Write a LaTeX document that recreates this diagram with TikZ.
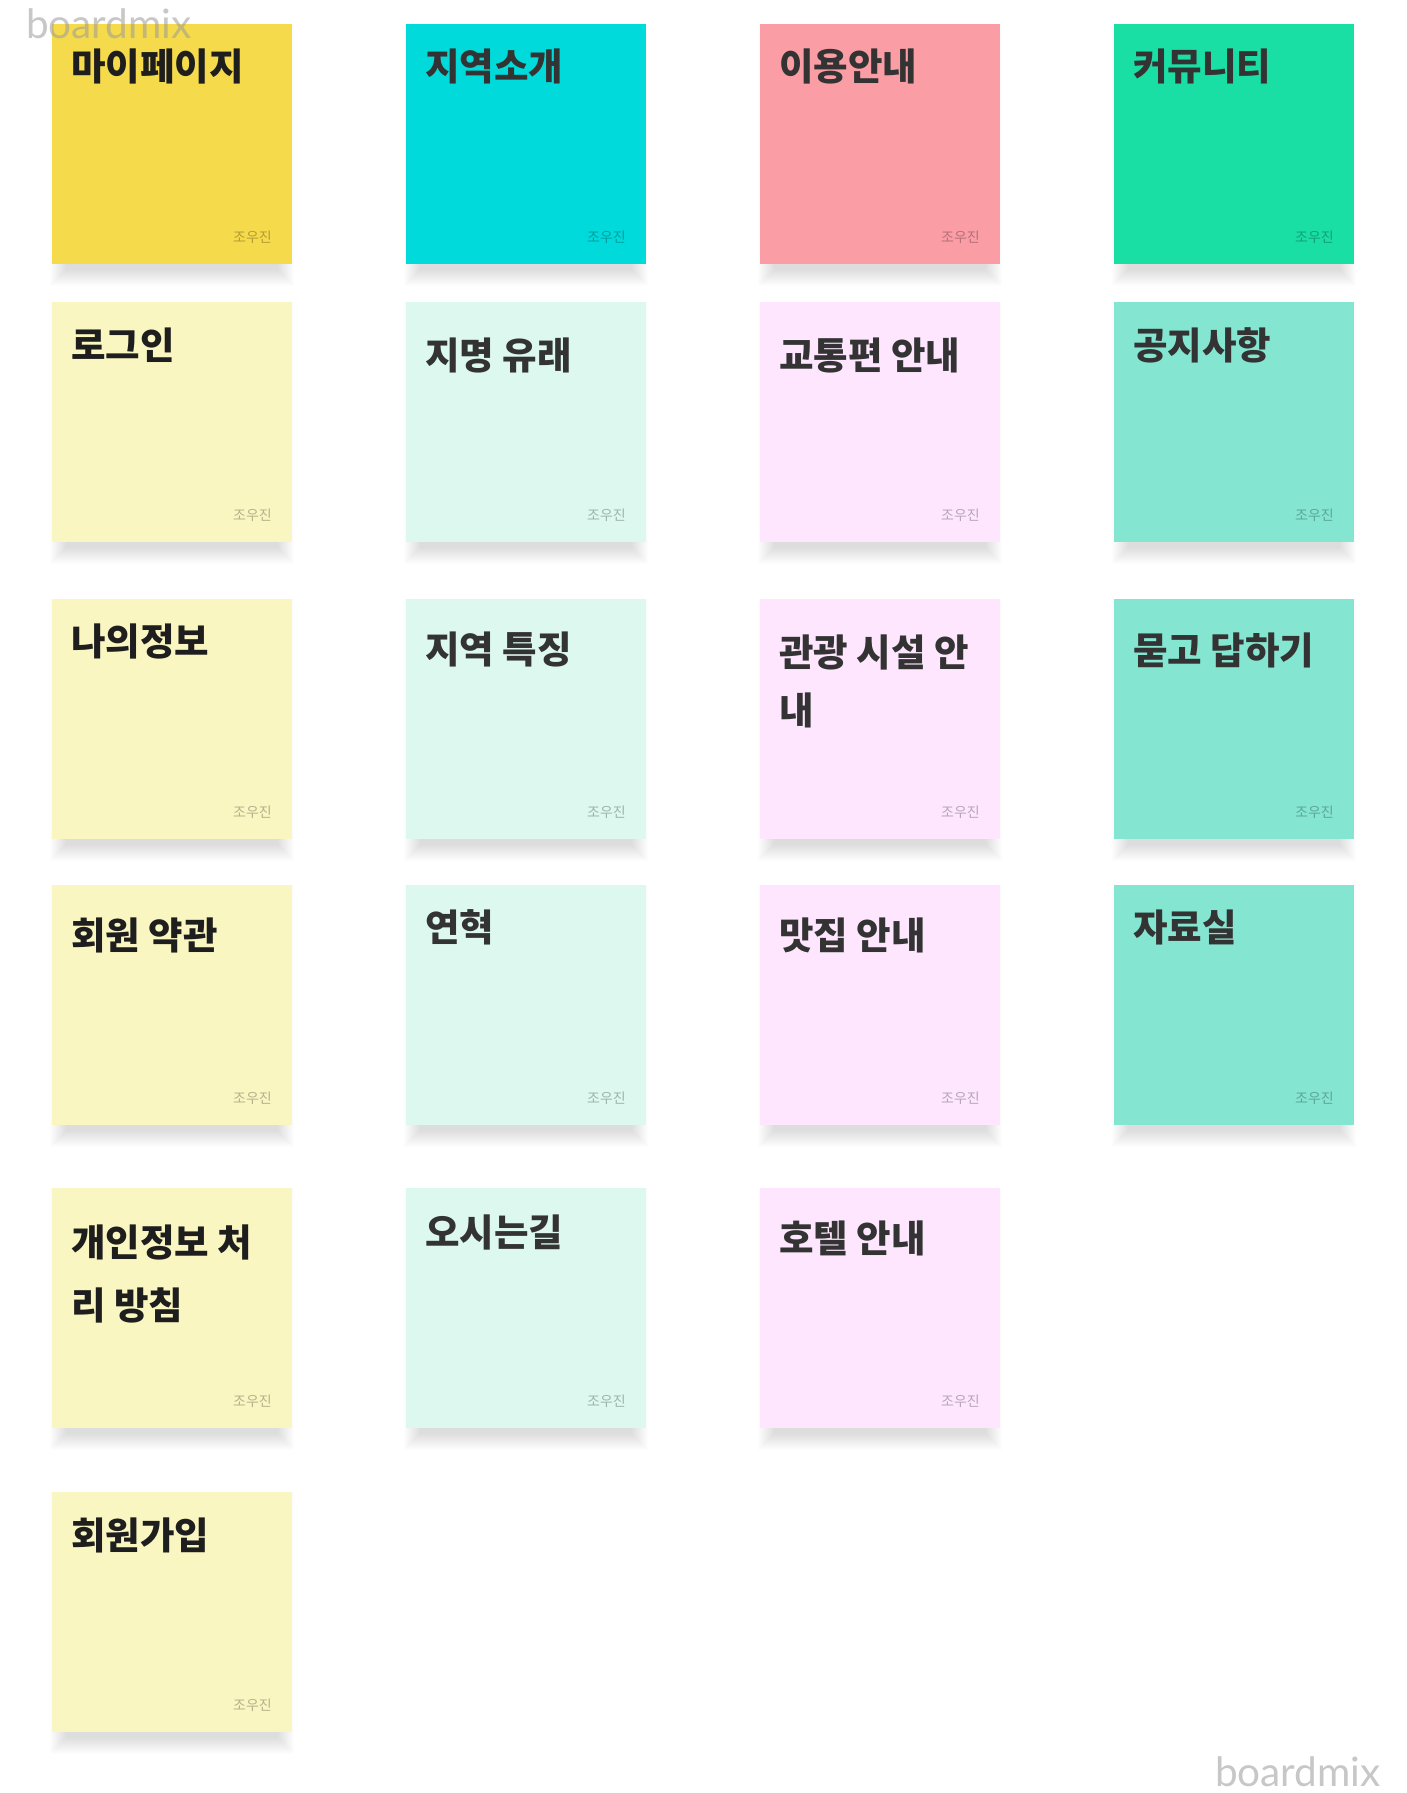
\documentclass[tikz,border=0pt]{standalone}
\usepackage{fontspec}
\newfontfamily\krfont{Noto Sans CJK KR}
\newfontfamily\krblack{Noto Sans CJK KR Black}
\newfontfamily\wmfont{Lato}
\definecolor{cYellow}{HTML}{F5DA4B}
\definecolor{cCyan}{HTML}{00DADA}
\definecolor{cPink}{HTML}{FA9DA5}
\definecolor{cGreen}{HTML}{1ADFA4}
\definecolor{cLYellow}{HTML}{FAF6C1}
\definecolor{cLMint}{HTML}{DCF8EF}
\definecolor{cLPink}{HTML}{FDE6FE}
\definecolor{cMint}{HTML}{84E5D1}
\definecolor{tDark}{HTML}{1E1E1E}
\definecolor{tGray}{HTML}{333333}
\definecolor{wmGray}{HTML}{9A9A9A}
\tikzset{
  card/.style={minimum width=240pt, minimum height=240pt, inner sep=0pt, outer sep=0pt,
    anchor=north west, draw=none},
  shadowlayer/.style={fill=black, fill opacity=0.0075, draw=none},
  title/.style={inner sep=0pt, anchor=base west, font=\krblack\fontsize{37.5}{40}\selectfont},
  titleA/.style={title, text=tDark},
  titleB/.style={title, text=tGray},
  author/.style={inner sep=0pt, anchor=base east, font=\krfont\fontsize{14}{16}\selectfont,
    text=black, text opacity=0.28},
  wm/.style={inner sep=0pt, font=\wmfont\fontsize{40.5}{44}\selectfont, text=wmGray, text opacity=0.55}
}
\begin{document}
\begin{tikzpicture}[x=1pt,y=-1pt]
\fill[white] (0,0) rectangle (1406,1793);
\useasboundingbox (0,0) rectangle (1406,1793);

% ---------- soft shadows under the cards ----------
\foreach \cx/\cy in {52/24,52/302,52/599,52/885,52/1188,52/1492,
                     406/24,406/302,406/599,406/885,406/1188,
                     760/24,760/302,760/599,760/885,760/1188,
                     1114/24,1114/302,1114/599,1114/885}{
  \foreach \s in {0,...,16}{
    \fill[shadowlayer] (\cx+14-\s,\cy+16-\s) rectangle (\cx+226+\s,\cy+246+\s);
  }
}

% ---------- column 1 ----------
\node[card, fill=cYellow]  (c11) at (52,24) {};
\node[card, fill=cLYellow] (c12) at (52,302) {};
\node[card, fill=cLYellow] (c13) at (52,599) {};
\node[card, fill=cLYellow] (c14) at (52,885) {};
\node[card, fill=cLYellow] (c15) at (52,1188) {};
\node[card, fill=cLYellow] (c16) at (52,1492) {};
% ---------- column 2 ----------
\node[card, fill=cCyan]  (c21) at (406,24) {};
\node[card, fill=cLMint] (c22) at (406,302) {};
\node[card, fill=cLMint] (c23) at (406,599) {};
\node[card, fill=cLMint] (c24) at (406,885) {};
\node[card, fill=cLMint] (c25) at (406,1188) {};
% ---------- column 3 ----------
\node[card, fill=cPink]  (c31) at (760,24) {};
\node[card, fill=cLPink] (c32) at (760,302) {};
\node[card, fill=cLPink] (c33) at (760,599) {};
\node[card, fill=cLPink] (c34) at (760,885) {};
\node[card, fill=cLPink] (c35) at (760,1188) {};
% ---------- column 4 ----------
\node[card, fill=cGreen] (c41) at (1114,24) {};
\node[card, fill=cMint]  (c42) at (1114,302) {};
\node[card, fill=cMint]  (c43) at (1114,599) {};
\node[card, fill=cMint]  (c44) at (1114,885) {};

% ---------- titles ----------
\node[titleA] (t11) at (71,81) {마이페이지};
\node[titleA] (t12) at (71,359) {로그인};
\node[titleA] (t13) at (71,655) {나의정보};
\node[titleA] (t14) at (71,949) {회원 약관};
\node[titleA] (t15a) at (71,1256) {개인정보 처};
\node[titleA] (t15b) at (71,1319) {리 방침};
\node[titleA] (t16) at (71,1549) {회원가입};

\node[titleB] (t21) at (425,81) {지역소개};
\node[titleB] (t22) at (425,369) {지명 유래};
\node[titleB] (t23) at (425,663) {지역 특징};
\node[titleB] (t24) at (425,941) {연혁};
\node[titleB] (t25) at (425,1246) {오시는길};

\node[titleB] (t31) at (779,81) {이용안내};
\node[titleB] (t32) at (779,369) {교통편 안내};
\node[titleB] (t33a) at (779,666) {관광 시설 안};
\node[titleB] (t33b) at (779,724) {내};
\node[titleB] (t34) at (779,949) {맛집 안내};
\node[titleB] (t35) at (779,1252) {호텔 안내};

\node[titleB] (t41) at (1133,81) {커뮤니티};
\node[titleB] (t42) at (1133,359) {공지사항};
\node[titleB] (t43) at (1133,664) {묻고 답하기};
\node[titleB] (t44) at (1133,941) {자료실};

% ---------- authors ----------
\foreach \cx/\nm in {52/1, 406/2, 760/3, 1114/4}{
  \node[author] (a\nm1) at (\cx+220,242) {조우진};
  \node[author] (a\nm2) at (\cx+220,520) {조우진};
  \node[author] (a\nm3) at (\cx+220,817) {조우진};
  \node[author] (a\nm4) at (\cx+220,1103) {조우진};
}
\foreach \cx/\nm in {52/1, 406/2, 760/3}{
  \node[author] (a\nm5) at (\cx+220,1406) {조우진};
}
\node[author] (a16) at (272,1710) {조우진};

% ---------- watermarks ----------
\node[wm, anchor=base west] (wm1) at (26,39) {boardmix};
\node[wm, anchor=base east] (wm2) at (1381,1786) {boardmix};
\end{tikzpicture}
\end{document}
